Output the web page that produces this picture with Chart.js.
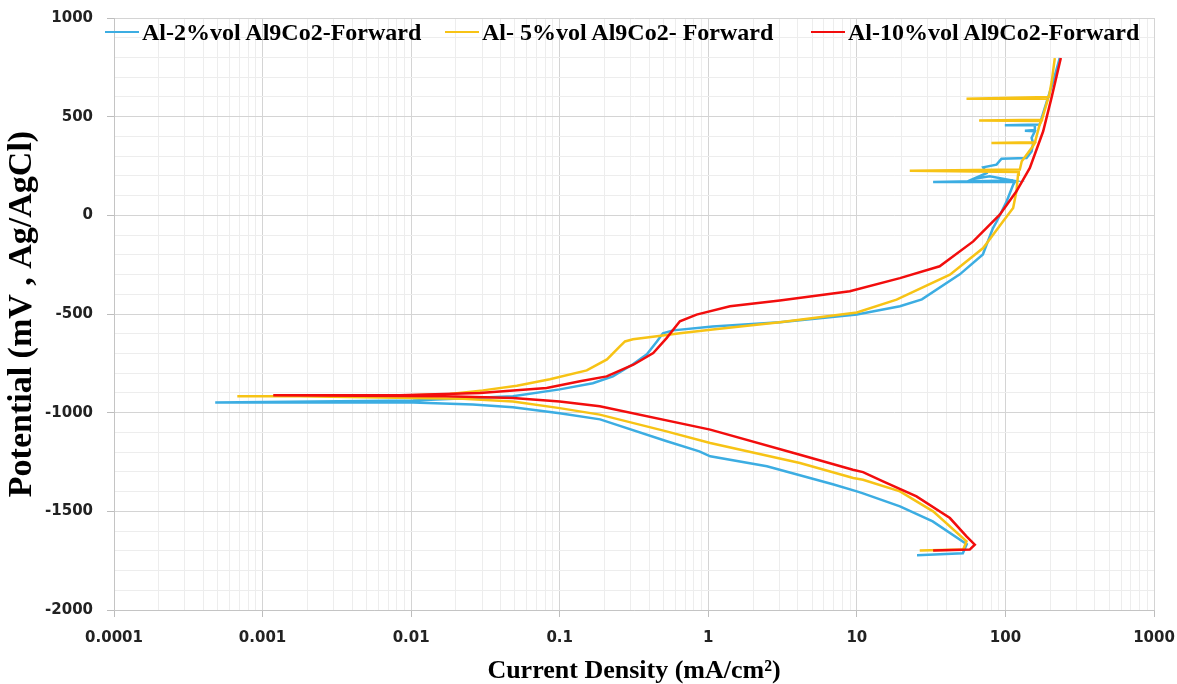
<!DOCTYPE html>
<html>
<head>
<meta charset="utf-8">
<title>Polarization curves Al-Al9Co2</title>
<script src="https://cdn.jsdelivr.net/npm/chart.js"></script>
<style>
  html, body { margin: 0; padding: 0; background: #fff; }
  #wrap { width: 1177px; height: 684px; position: relative; }
  #legend { position: absolute; top: 17px; left: 0; height: 30px; width: 1177px; pointer-events: none; }
  .item { position: absolute; top: 0; height: 30px; display: flex; align-items: center; white-space: nowrap;
          font: bold 24px "Liberation Serif", "Times New Roman", serif; color: #000; line-height: 30px; }
  .item i { display: inline-block; width: 34px; height: 2.5px; margin-right: 3px; }
</style>
</head>
<body>
<div id="wrap"><canvas id="tafelChart"></canvas><div id="legend"></div></div>
<script>
// axis ticks
const xDecades = [0.0001, 0.001, 0.01, 0.1, 1, 10, 100, 1000];
const yMin = -2000, yMax = 1000, yStep = 100, yLabelStep = 500;

const seriesNames = ['Al-2%vol Al9Co2-Forward', 'Al- 5%vol Al9Co2- Forward', 'Al-10%vol Al9Co2-Forward'];

// Al-2%vol  (current density mA/cm2, potential mV)
const blueCurrent = [25.4, 51.7, 54.9, 32.4, 19.5, 11.0, 10.0, 6.89, 2.48, 1.03, 0.87, 0.526, 0.187, 0.1, 0.0484, 0.026, 0.0103, 0.00179, 0.00048,
  0.0103, 0.0484, 0.100, 0.167, 0.228, 0.311, 0.386, 0.451, 0.495, 0.578, 1.07, 3.03, 10, 19.5, 27.4, 49.3, 70.5, 82.3, 87.5, 102, 112.7,
  115.6, 32.6, 112.7, 78.5, 60.6, 74.6, 70.8, 87.1, 94.1, 138.7, 150, 153.6, 150, 157.8, 135.2, 157.8, 157.8, 99.1, 170, 184, 209.6, 232];
const bluePotential = [-1723, -1713, -1667, -1551, -1475, -1409, -1399, -1363, -1272, -1221, -1196, -1145, -1034, -1003, -973, -958, -948, -948, -948,
  -938, -917, -882, -851, -816, -755, -704, -639, -598, -583, -563, -542, -502, -461, -426, -299, -198, -66, -30, 71, 155,
  169, 169, 176, 198, 184, 214, 243, 257, 287, 290, 324, 366, 392, 426, 429, 432, 456, 456, 460, 544, 679, 797];

// Al-5%vol
const yellowCurrent = [26.5, 51.9, 54.7, 32.6, 19.5, 11.0, 9.45, 4.14, 1.03, 0.523, 0.186, 0.1, 0.0484, 0.0223, 0.0103, 0.00179, 0.000676,
  0.00179, 0.01, 0.0182, 0.0304, 0.0515, 0.0859, 0.152, 0.208, 0.254, 0.275, 0.311, 0.451, 0.644, 1.07, 3.03, 10, 18.5, 42.3, 70.8, 96.5,
  112.7, 118.6, 121.6, 123, 22.7, 125, 128.8, 153, 157.8, 80.5, 158, 170, 175, 66.5, 176, 193.6, 54.7, 196, 205, 215];
const yellowPotential = [-1699, -1694, -1652, -1500, -1399, -1340, -1331, -1255, -1154, -1095, -1010, -977, -943, -929, -926, -917, -917,
  -917, -912, -905, -887, -864, -831, -786, -730, -664, -639, -628, -613, -598, -578, -542, -492, -427, -301, -166, -30,
  37, 122, 206, 220, 226, 232, 274, 350, 366, 366, 370, 460, 478, 481, 484, 591, 591, 600, 679, 797];

// Al-10%vol
const redCurrent = [32.6, 57.5, 62.2, 54.7, 42.3, 25.2, 15.0, 11.0, 9.4, 4.14, 1.03, 0.186, 0.1, 0.0484, 0.0173, 0.00118,
  0.0084, 0.029, 0.0816, 0.137, 0.207, 0.313, 0.426, 0.524, 0.644, 0.834, 1.40, 3.03, 8.97, 19.5, 36.1, 60.7, 91.6, 118.6, 146, 179.5, 204, 236];
const redPotential = [-1699, -1694, -1669, -1627, -1534, -1424, -1348, -1301, -1289, -1213, -1086, -968, -943, -926, -917, -912,
  -912, -900, -875, -841, -816, -757, -698, -622, -537, -503, -461, -432, -385, -318, -258, -132, 3, 122, 240, 426, 594, 797];

const seriesColors = ['#3CADE2', '#F7C315', '#F20D0D'];

function pts(xs, ys) {
  return xs.map((x, i) => ({ x: x, y: ys[i] }));
}

const serif = '"Liberation Serif", "Times New Roman", serif';
const tickFont = { family: '"DejaVu Sans", Verdana, sans-serif', size: 15, weight: 'bold' };

const ctx = document.getElementById('tafelChart').getContext('2d');

const tafelChart = new Chart(ctx, {
  type: 'scatter',
  data: {
    datasets: [
      { label: seriesNames[0], data: pts(blueCurrent, bluePotential), borderColor: seriesColors[0], order: 2 },
      { label: seriesNames[1], data: pts(yellowCurrent, yellowPotential), borderColor: seriesColors[1], order: 1 },
      { label: seriesNames[2], data: pts(redCurrent, redPotential), borderColor: seriesColors[2], order: 0 }
    ]
  },
  options: {
    responsive: true,
    maintainAspectRatio: false,
    animation: false,
    datasets: {
      scatter: { showLine: true, borderWidth: 2.5, pointRadius: 0, pointHoverRadius: 0, tension: 0 }
    },
    layout: { padding: { top: 18, right: 23, left: 0, bottom: 0 } },
    plugins: {
      tooltip: { enabled: false },
      legend: { display: false }
    },
    scales: {
      x: {
        type: 'logarithmic',
        min: xDecades[0],
        max: xDecades[xDecades.length - 1],
        afterBuildTicks: (scale) => {
          const t = [];
          xDecades.forEach((d, i) => {
            t.push({ value: d, major: true });
            if (i < xDecades.length - 1) {
              for (let m = 2; m <= 9; m++) t.push({ value: d * m, major: false });
            }
          });
          scale.ticks = t;
        },
        afterFit: (scale) => {
          scale.height = 74;
          scale.paddingLeft = 0;
          scale.paddingRight = 0;
        },
        ticks: {
          autoSkip: false,
          maxRotation: 0,
          padding: 12,
          color: '#222',
          font: tickFont,
          callback: (value, index, ticks) => ticks[index].major ? String(value) : ''
        },
        grid: {
          color: (c) => (c.tick && c.tick.major) ? '#d4d4d4' : '#ededed',
          tickColor: (c) => (c.tick && c.tick.major) ? '#bdbdbd' : 'rgba(0,0,0,0)',
          tickLength: 7
        },
        border: { color: '#c4c4c4' },
        title: {
          display: true,
          text: 'Current Density (mA/cm²)',
          color: '#000',
          font: { family: serif, size: 26, weight: 'bold', lineHeight: 1.0 },
          padding: { top: 0, bottom: 0 }
        }
      },
      y: {
        type: 'linear',
        min: yMin,
        max: yMax,
        afterFit: (scale) => {
          scale.width = 114;
          scale.paddingTop = 0;
          scale.paddingBottom = 0;
        },
        ticks: {
          stepSize: yStep,
          autoSkip: false,
          padding: 14,
          color: '#222',
          font: tickFont,
          callback: (value) => value % yLabelStep === 0 ? String(value) : ''
        },
        grid: {
          color: (c) => (c.tick && c.tick.value % yLabelStep === 0) ? '#d4d4d4' : '#ededed',
          tickColor: (c) => (c.tick && c.tick.value % yLabelStep === 0) ? '#bdbdbd' : 'rgba(0,0,0,0)',
          tickLength: 7
        },
        border: { color: '#c4c4c4' },
        title: {
          display: true,
          text: 'Potential (mV , Ag/AgCl)',
          color: '#000',
          font: { family: serif, size: 34, weight: 'bold', lineHeight: 1.0 },
          padding: { top: 5, bottom: 0 }
        }
      }
    }
  }
});

// legend drawn over the top of the plot area, as in the original figure
const legendLeft = [105, 445, 811];
const legendBox = document.getElementById('legend');
tafelChart.data.datasets.forEach((ds, i) => {
  const item = document.createElement('div');
  item.className = 'item';
  item.style.left = legendLeft[i] + 'px';
  const line = document.createElement('i');
  line.style.background = ds.borderColor;
  item.appendChild(line);
  item.appendChild(document.createTextNode(ds.label));
  legendBox.appendChild(item);
});
</script>
</body>
</html>
